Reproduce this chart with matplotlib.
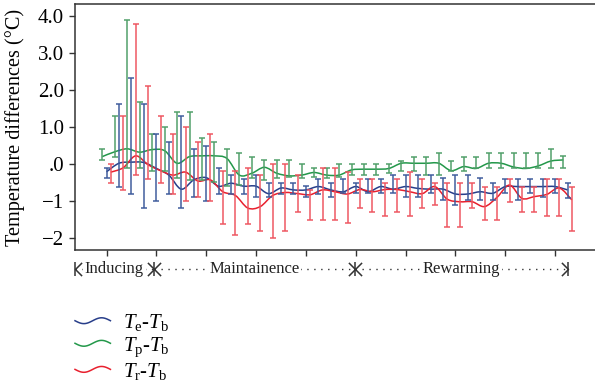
import numpy as np
import matplotlib
matplotlib.use("Agg")
import matplotlib.pyplot as plt
from matplotlib.path import Path
from matplotlib.patches import PathPatch
from matplotlib.lines import Line2D
from matplotlib.legend_handler import HandlerBase

plt.rcParams['font.family'] = ['Liberation Serif', 'DejaVu Serif']
plt.rcParams['mathtext.fontset'] = 'custom'
plt.rcParams['mathtext.rm'] = 'Liberation Serif'
plt.rcParams['mathtext.it'] = 'Liberation Serif:italic'

# time points (one every quarter of a tick interval)
time_idx = np.arange(38)

# smoothed mean curves
green_mean = [0.20, 0.33, 0.41, 0.32, 0.39, 0.36, 0.02, 0.20, 0.22, 0.22,
              0.15, -0.30, -0.25, -0.09, -0.25, -0.32, -0.30, -0.23, -0.30, -0.30,
              -0.16, -0.14, -0.14, -0.12, 0.02, 0.02, 0.02, 0.02, -0.18, -0.07,
              -0.12, 0.02, 0.02, -0.08, -0.12, -0.05, 0.08, 0.11]
blue_mean = [-0.21, 0.02, 0.05, 0.04, -0.12, -0.30, -0.68, -0.43, -0.37, -0.60,
             -0.52, -0.60, -0.60, -0.80, -0.65, -0.70, -0.70, -0.61, -0.70, -0.75,
             -0.61, -0.75, -0.61, -0.68, -0.61, -0.66, -0.68, -0.68, -0.81, -0.81,
             -0.75, -0.79, -0.61, -0.61, -0.61, -0.61, -0.61, -0.70]
red_mean = [-0.22, -0.10, 0.22, -0.02, -0.18, -0.30, -0.22, -0.46, -0.43, -0.75,
            -0.85, -1.19, -1.15, -0.85, -0.77, -0.80, -0.83, -0.70, -0.75, -0.81,
            -0.69, -0.75, -0.69, -0.69, -0.75, -0.80, -0.61, -0.95, -1.02, -1.02,
            -1.15, -0.90, -0.57, -0.93, -0.88, -0.82, -0.65, -0.97]

# error bar ends
green_hi = [0.41, 1.31, 3.89, 1.68, 0.80, 1.00, 1.40, 1.40, 0.70, 0.60,
            0.41, 0.31, 0.20, 0.10, 0.10, 0.10, -0.01, -0.10, -0.10, 0.00,
            0.00, 0.00, 0.00, 0.00, 0.09, 0.20, 0.20, 0.29, 0.09, 0.20,
            0.20, 0.29, 0.29, 0.29, 0.29, 0.29, 0.40, 0.22]
green_lo = [0.11, 0.20, -0.10, -0.10, -0.20, -0.20, -0.39, -0.43, -0.43, -0.48,
            -0.60, -0.56, -0.39, -0.43, -0.39, -0.34, -0.39, -0.34, -0.39, -0.36,
            -0.30, -0.30, -0.30, -0.25, -0.20, -0.20, -0.30, -0.30, -0.20, -0.20,
            -0.12, -0.12, -0.12, -0.12, -0.12, -0.12, -0.12, -0.12]
blue_hi = [-0.10, 1.61, 2.32, 1.61, 0.80, 0.60, 1.31, 0.41, 0.50, -0.10,
           -0.30, -0.40, -0.30, -0.50, -0.50, -0.50, -0.60, -0.40, -0.50, -0.41,
           -0.50, -0.41, -0.41, -0.30, -0.30, -0.30, -0.30, -0.39, -0.30, -0.30,
           -0.39, -0.50, -0.41, -0.41, -0.41, -0.41, -0.41, -0.50]
blue_lo = [-0.39, -0.61, -0.80, -1.20, -1.00, -0.80, -1.20, -0.90, -1.00, -0.80,
           -0.80, -0.80, -0.90, -0.90, -0.80, -0.80, -0.90, -0.80, -0.90, -0.79,
           -0.79, -0.79, -0.79, -0.79, -0.88, -0.88, -0.79, -0.97, -1.10, -0.97,
           -0.97, -0.97, -0.79, -0.97, -0.79, -0.88, -0.79, -0.93]
red_hi = [0.00, 1.31, 3.79, 2.11, 1.31, 0.80, 1.00, 0.60, 0.80, -0.20,
          -0.20, -0.10, -0.30, 0.00, 0.00, -0.30, -0.70, -0.10, -0.10, -0.21,
          -0.41, -0.41, -0.50, -0.41, -0.21, -0.41, -0.50, -0.50, -0.50, -0.50,
          -0.61, -0.61, -0.41, -0.61, -0.61, -0.41, -0.41, -0.61]
red_lo = [-0.50, -0.70, -0.30, -0.40, -0.50, -0.80, -1.00, -0.90, -1.00, -1.61,
          -1.91, -1.61, -1.81, -2.00, -1.81, -1.31, -1.50, -1.50, -1.50, -1.60,
          -1.20, -1.31, -1.41, -1.31, -1.41, -1.20, -1.10, -1.69, -1.69, -1.20,
          -1.51, -1.51, -1.02, -1.31, -1.31, -1.41, -1.41, -1.80]

ytick_vals = [4, 3, 2, 1, 0, -1, -2]
ytick_labels = ['4.0', '3.0', '2.0', '1.0', '.0', '\u22121', '\u22122']

phase_names = ['Inducing', 'Maintainence', 'Rewarming']
phase_edges = [-2.53, 3.8, 19.9, 37.05]

series = [
    # label, mean, lo, hi, dodge, line colour, bar colour
    (r'$T_{\mathrm{e}}$-$T_{\mathrm{b}}$', blue_mean, blue_lo, blue_hi, 0.0, '#283e8a', '#3d5a9c'),
    (r'$T_{\mathrm{p}}$-$T_{\mathrm{b}}$', green_mean, green_lo, green_hi, -0.34, '#23984a', '#4f9f68'),
    (r'$T_{\mathrm{r}}$-$T_{\mathrm{b}}$', red_mean, red_lo, red_hi, 0.34, '#e8202e', '#ee5560'),
]
draw_order = [1, 0, 2]


def smooth_path(x, y):
    # Catmull-Rom spline through the points, as cubic Bezier segments
    pts = np.column_stack([x, y])
    p = np.vstack([pts[0], pts, pts[-1]])
    verts = [pts[0]]
    codes = [Path.MOVETO]
    for k in range(len(pts) - 1):
        p0, p1, p2, p3 = p[k], p[k + 1], p[k + 2], p[k + 3]
        verts += [p1 + (p2 - p0) / 6, p2 - (p3 - p1) / 6, p2]
        codes += [Path.CURVE4] * 3
    return Path(verts, codes)


class WaveHandler(HandlerBase):
    def create_artists(self, legend, orig_handle, xdescent, ydescent,
                       width, height, fontsize, trans):
        t = np.linspace(0, 1, 40)
        xs = -xdescent + width * t
        ys = -ydescent + height / 2 - 0.2 * height * np.sin(2 * np.pi * t)
        line = Line2D(xs, ys, color=orig_handle.get_color(), lw=1.1)
        line.set_transform(trans)
        return [line]


fig = plt.figure(figsize=(5.95, 3.91), dpi=100)
ax = fig.add_axes([75 / 595, 141 / 391, 520 / 595, 246 / 391])

handles = {}
for k in draw_order:
    label, mean, lo, hi, dodge, lc, bc = series[k]
    mean = np.array(mean)
    lo = np.array(lo)
    hi = np.array(hi)
    x = time_idx + dodge
    mid = (lo + hi) / 2
    ax.errorbar(x, mid, yerr=[mid - lo, hi - mid], fmt='none', ecolor=bc,
                elinewidth=1.2, capsize=2.0, capthick=1.2, alpha=0.9)
    ax.add_patch(PathPatch(smooth_path(x, mean), fc='none', ec=lc, lw=1.1))
    handles[k] = Line2D([], [], color=lc, label=label)

ax.set_xlim(phase_edges[0], 39.2)
ax.set_ylim(-2.324, 4.324)
ax.set_xticks(np.arange(0, 37, 4))
ax.set_xticklabels([])
ax.set_yticks(ytick_vals)
ax.set_yticklabels(ytick_labels)
ax.tick_params(axis='both', direction='out', length=4, width=1.0, color='#333333',
               labelsize=15, pad=4)
for side in ['left', 'top', 'bottom']:
    ax.spines[side].set_color('#333333')
    ax.spines[side].set_linewidth(1.1)
ax.spines['right'].set_visible(False)

ax.set_ylabel('Temperature differences (°C)', fontsize=14.6)
ax.yaxis.set_label_coords(-0.096, 0.5)

# phase annotation under the axis
trans = ax.get_xaxis_transform()
yb = -0.078
chev_right = Path([(-1, 1), (0, 0), (-1, -1)], [Path.MOVETO, Path.LINETO, Path.LINETO])
chev_left = Path([(1, 1), (0, 0), (1, -1)], [Path.MOVETO, Path.LINETO, Path.LINETO])
mk = dict(transform=trans, clip_on=False, color='#333333', mfc='none', mec='#333333',
          mew=1.1, ms=9.5, ls='none')
for i, name in enumerate(phase_names):
    x0, x1 = phase_edges[i], phase_edges[i + 1]
    ax.plot([x0, x1], [yb, yb], transform=trans, clip_on=False, color='#333333',
            lw=1.0, ls=(0, (1, 4)))
    ax.text((x0 + x1) / 2, yb, name, transform=trans, ha='center', va='center',
            fontsize=12, color='#222222',
            bbox=dict(fc='white', ec='none', pad=1.5))
    ax.plot([x0], [yb], marker=chev_left, **mk)
    ax.plot([x1], [yb], marker=chev_right, **mk)
ax.plot(phase_edges, [yb] * len(phase_edges), marker='|', **mk)

fig.legend([handles[k] for k in range(3)], [series[k][0] for k in range(3)],
           handler_map={Line2D: WaveHandler()}, loc='upper left',
           bbox_to_anchor=(75 / 595, 1 - 312 / 391), frameon=False, borderpad=0,
           borderaxespad=0, handlelength=1.7, handletextpad=0.6,
           labelspacing=0.1, fontsize=15)

fig.savefig('out.png', dpi=100)
